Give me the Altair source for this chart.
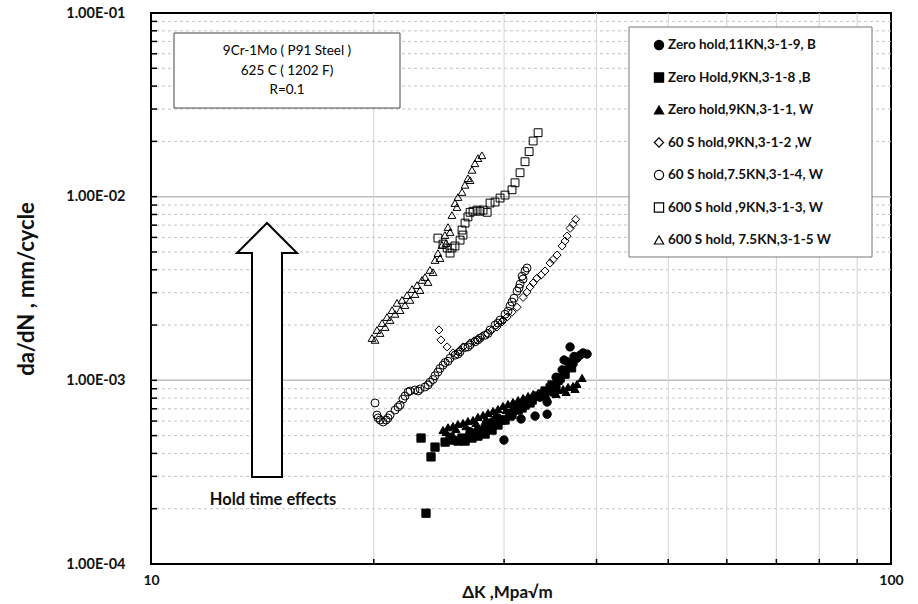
import altair as alt
import pandas as pd

FONT = "Lato"

# ---------------- data ----------------
names = [
    "Zero hold,11KN,3-1-9, B",
    "Zero Hold,9KN,3-1-8 ,B",
    "Zero hold,9KN,3-1-1, W",
    "60 S hold,9KN,3-1-2 ,W",
    "60 S hold,7.5KN,3-1-4, W",
    "600 S hold ,9KN,3-1-3, W",
    "600 S hold, 7.5KN,3-1-5 W",
]
shapes = ["circle", "square", "triangle-up", "diamond", "circle", "square", "triangle-up"]
fills = ["black", "black", "black", "transparent", "transparent", "transparent", "transparent"]
sizes = [70, 60, 90, 120, 120, 130, 130]

zh11_k = [26.99, 27.66, 28.28, 28.90, 29.44, 29.99, 30.56, 31.04, 31.63, 32.12, 32.53, 33.04, 33.55,
          34.30, 34.30, 34.83, 35.27, 35.71, 36.16, 36.39, 36.84, 37.18, 37.64, 38.00, 38.36, 38.84,
          35.27, 35.94, 36.61, 37.30]
zh11_v = [5.25e-4, 5.36e-4, 5.63e-4, 5.93e-4, 6.24e-4, 4.73e-4, 6.64e-4, 6.89e-4, 6.16e-4, 7.34e-4,
          7.62e-4, 6.39e-4, 8.10e-4, 6.54e-4, 7.62e-4, 8.64e-4, 9.20e-4, 1.01e-3, 1.29e-3, 1.14e-3,
          1.52e-3, 1.23e-3, 1.32e-3, 1.37e-3, 1.41e-3, 1.39e-3,
          1.04e-3, 1.14e-3, 1.26e-3, 1.35e-3]

zh9b_k = [23.17, 23.90, 24.20, 23.53, 24.97, 25.51, 25.99, 26.57, 27.15, 27.66, 28.28, 28.90,
          29.44, 30.09, 30.75, 31.34, 32.02, 32.74, 33.35, 34.08, 34.83, 35.49, 36.27, 37.01,
          25.36, 26.32, 26.99, 28.01, 28.72, 29.81, 30.56, 31.73, 32.53, 33.77, 34.62, 35.71]
zh9b_v = [4.85e-4, 3.83e-4, 4.33e-4, 1.89e-4, 4.61e-4, 4.73e-4, 4.67e-4, 4.67e-4, 4.85e-4, 4.97e-4,
          5.10e-4, 5.36e-4, 5.71e-4, 6.08e-4, 6.54e-4, 6.89e-4, 7.34e-4, 7.81e-4, 8.21e-4, 8.75e-4,
          9.43e-4, 1.00e-3, 1.08e-3, 1.17e-3,
          4.90e-4, 4.85e-4, 4.97e-4, 5.23e-4, 5.50e-4, 6.08e-4, 6.39e-4, 7.07e-4, 7.53e-4, 8.42e-4,
          9.09e-4, 1.03e-3]

zh9w_k = [24.81, 25.20, 25.59, 25.99, 26.40, 26.81, 27.24, 27.66, 28.10, 28.54, 28.99, 29.44, 29.90,
          30.37, 30.85, 31.34, 31.83, 32.33, 32.84, 33.35, 33.87, 34.40, 34.94, 35.49, 36.05, 36.61,
          37.18, 37.64, 38.24,
          25.05, 25.83, 26.65, 27.49, 28.37, 29.26, 30.18, 31.14, 32.12, 33.14, 34.19, 35.27, 36.39,
          37.41]
zh9w_v = [5.36e-4, 5.55e-4, 5.63e-4, 5.78e-4, 5.86e-4, 6.00e-4, 6.08e-4, 6.32e-4, 6.47e-4, 6.64e-4,
          6.81e-4, 6.98e-4, 7.25e-4, 7.43e-4, 7.62e-4, 7.81e-4, 8.01e-4, 8.21e-4, 8.42e-4, 8.53e-4,
          8.64e-4, 8.75e-4, 8.86e-4, 8.86e-4, 8.97e-4, 9.20e-4, 9.31e-4, 9.55e-4, 1.03e-3,
          5.23e-4, 5.43e-4, 5.63e-4, 5.86e-4, 6.16e-4, 6.54e-4, 6.89e-4, 7.34e-4, 7.72e-4, 8.10e-4,
          8.32e-4, 8.42e-4, 8.64e-4, 8.97e-4]

h60_9_k = [24.50, 24.65, 25.13, 25.59, 25.99, 26.40, 26.99, 27.58, 28.01, 28.46, 28.90, 29.35, 29.81,
           30.28, 30.75, 31.24, 31.83, 32.53, 33.24, 34.08, 34.62, 35.38, 35.94, 36.50, 36.84, 37.49,
           26.16, 27.32, 29.90, 32.22, 32.84, 33.66, 34.94, 36.27, 37.18]
h60_9_v = [1.88e-3, 1.66e-3, 1.52e-3, 1.41e-3, 1.43e-3, 1.52e-3, 1.60e-3, 1.66e-3, 1.74e-3, 1.80e-3,
           1.88e-3, 1.95e-3, 2.08e-3, 2.21e-3, 2.35e-3, 2.50e-3, 2.83e-3, 3.22e-3, 3.60e-3, 3.94e-3,
           4.35e-3, 4.81e-3, 5.39e-3, 6.10e-3, 6.72e-3, 7.53e-3,
           1.46e-3, 1.64e-3, 2.13e-3, 3.02e-3, 3.39e-3, 3.74e-3, 4.55e-3, 5.73e-3, 7.07e-3]

h60_75_k = [20.08, 20.20, 20.40, 20.59, 20.78, 21.04, 21.37, 21.71, 22.04, 22.39, 22.74, 23.10,
            23.46, 23.83, 24.20, 24.58, 24.97, 25.36, 25.75, 26.16, 26.57, 26.99, 27.41, 27.84,
            28.28, 28.72, 29.17, 29.63, 30.09, 30.56, 30.94, 31.24, 31.53, 31.73, 32.02, 32.22,
            20.27, 20.91, 21.57, 21.90, 22.25, 22.96, 23.68, 24.05, 24.42, 24.81, 25.20, 25.99,
            26.81, 27.66, 28.54, 29.44, 30.37, 30.75, 31.43, 31.83]
h60_75_v = [7.53e-4, 6.47e-4, 6.08e-4, 5.93e-4, 6.08e-4, 6.47e-4, 6.89e-4, 7.34e-4, 8.21e-4, 8.75e-4,
            8.86e-4, 8.97e-4, 9.20e-4, 9.78e-4, 1.06e-3, 1.16e-3, 1.25e-3, 1.32e-3, 1.37e-3, 1.43e-3,
            1.51e-3, 1.56e-3, 1.62e-3, 1.70e-3, 1.76e-3, 1.88e-3, 2.00e-3, 2.13e-3, 2.29e-3, 2.54e-3,
            2.80e-3, 3.06e-3, 3.34e-3, 3.69e-3, 3.94e-3, 4.09e-3,
            6.24e-4, 6.24e-4, 7.16e-4, 7.90e-4, 8.64e-4, 8.75e-4, 9.43e-4, 1.01e-3, 1.11e-3, 1.21e-3,
            1.27e-3, 1.39e-3, 1.52e-3, 1.66e-3, 1.80e-3, 2.05e-3, 2.38e-3, 2.67e-3, 3.18e-3, 3.56e-3]

h600_9_k = [24.42, 24.81, 25.13, 25.36, 25.51, 25.75, 26.16, 26.40, 26.32, 26.57, 26.81, 26.99, 27.24,
            27.58, 27.84, 28.10, 28.46, 28.72, 29.17, 29.63, 30.09, 30.75, 31.04, 31.53, 32.02, 32.43,
            32.84, 33.35]
h600_9_v = [5.95e-3, 5.52e-3, 5.25e-3, 4.93e-3, 5.25e-3, 5.39e-3, 5.80e-3, 6.18e-3, 6.58e-3, 7.18e-3,
            7.76e-3, 8.22e-3, 8.33e-3, 8.45e-3, 8.33e-3, 8.45e-3, 8.22e-3, 9.23e-3, 9.35e-3, 9.83e-3,
            1.02e-2, 1.09e-2, 1.19e-2, 1.35e-2, 1.55e-2, 1.76e-2, 2.01e-2, 2.23e-2]

h600_75_k = [19.89, 20.20, 20.52, 20.84, 21.17, 21.50, 21.84, 22.18, 22.53, 22.88, 23.24, 23.46,
             23.82, 24.20, 24.42, 24.73, 24.96, 25.20, 25.51, 25.75, 25.99, 26.32, 26.56, 26.81,
             27.15, 27.40, 27.66, 28.00,
             20.08, 20.40, 20.72, 21.04, 21.37, 21.71, 22.04, 22.39, 22.74, 23.10, 23.68, 24.05,
             24.58, 25.05, 25.36, 25.91, 26.99]
h600_75_v = [1.70e-3, 1.88e-3, 2.05e-3, 2.21e-3, 2.41e-3, 2.64e-3, 2.74e-3, 2.91e-3, 3.14e-3, 3.30e-3,
             3.52e-3, 3.65e-3, 3.99e-3, 4.52e-3, 4.93e-3, 5.45e-3, 6.18e-3, 6.83e-3, 7.94e-3, 9.23e-3,
             9.95e-3, 1.06e-2, 1.16e-2, 1.26e-2, 1.40e-2, 1.52e-2, 1.62e-2, 1.68e-2,
             1.66e-3, 1.81e-3, 1.95e-3, 2.13e-3, 2.30e-3, 2.41e-3, 2.57e-3, 2.74e-3, 2.95e-3, 3.10e-3,
             3.43e-3, 3.88e-3, 4.63e-3, 5.59e-3, 6.42e-3, 8.78e-3, 1.23e-2]

y_major = [1e-4, 1e-3, 1e-2, 1e-1]
y_minor = [m * d for d in (1e-4, 1e-3, 1e-2) for m in range(2, 10)]
x_grid = [20, 30, 40, 50, 60, 70, 80, 90]
x_labels = [10, 100]

annotation = "9Cr-1Mo ( P91 Steel )\n625 C ( 1202 F)\nR=0.1"
arrow_label = "Hold time effects"

# ---------------- build ----------------
series_k = [zh11_k, zh9b_k, zh9w_k, h60_9_k, h60_75_k, h600_9_k, h600_75_k]
series_v = [zh11_v, zh9b_v, zh9w_v, h60_9_v, h60_75_v, h600_9_v, h600_75_v]
rows = []
for n, ks, vs in zip(names, series_k, series_v):
    for k, v in zip(ks, vs):
        rows.append({"series": n, "dK": k, "dadN": v})
df = pd.DataFrame(rows)

W, H = 740, 551
xs = alt.Scale(type="log", domain=[10, 100], nice=False)
ys = alt.Scale(type="log", domain=[1e-4, 1e-1], nice=False)
one = pd.DataFrame({"a": [0]})

XAX = alt.Axis(values=x_labels, format=".0f", title="ΔK ,Mpa√m", grid=False, ticks=False,
               domain=False, labelFlush=False, labelOverlap=False, labelFont=FONT,
               labelFontSize=14, labelFontWeight="bold", labelColor="#111",
               labelPadding=9, titleFont=FONT, titleFontSize=17, titleX=356,
               titleFontWeight="bold", titleColor="#111", titlePadding=-3)
YAX = alt.Axis(values=y_major,
               labelExpr="'1.00E-0' + round(-log(datum.value) / LN10)",
               title="da/dN , mm/cycle", grid=False, ticks=False, domain=False,
               labelFont=FONT, labelFontSize=14.5, labelFontWeight="bold",
               labelColor="#111", labelPadding=26, labelOverlap=False,
               labelFlush=False, titleFont=FONT, titleFontSize=22,
               titleFontWeight="bold", titleColor="#111", titlePadding=27)

minor_df = pd.DataFrame({"dadN": y_minor})
major_df = pd.DataFrame({"dadN": [1e-3, 1e-2]})
all_y_df = pd.DataFrame({"dadN": y_minor + y_major})
xg_df = pd.DataFrame({"dK": x_grid})

hminor = alt.Chart(minor_df).mark_rule(color="#c4c4c4", strokeDash=[3, 3], strokeWidth=1).encode(
    y=alt.Y("dadN:Q", scale=ys, axis=YAX))
hmajor = alt.Chart(major_df).mark_rule(color="#bdbdbd", strokeWidth=1.5).encode(
    y=alt.Y("dadN:Q", scale=ys, axis=YAX))
vgrid = alt.Chart(xg_df).mark_rule(color="#d3d3d3", strokeWidth=1).encode(
    x=alt.X("dK:Q", scale=xs, axis=XAX))
yticks = alt.Chart(all_y_df).mark_rule(color="black", strokeWidth=1.5).encode(
    y=alt.Y("dadN:Q", scale=ys, axis=YAX), x=alt.value(0), x2=alt.value(6))
xticks = alt.Chart(xg_df).mark_rule(color="black", strokeWidth=1.5).encode(
    x=alt.X("dK:Q", scale=xs, axis=XAX), y=alt.value(H), y2=alt.value(H - 5))

note_box = alt.Chart(one).mark_rect(fill="white", stroke="#444", strokeWidth=1).encode(
    x=alt.value(23), x2=alt.value(249), y=alt.value(20), y2=alt.value(95))
note_text = alt.Chart(one).mark_text(font=FONT, fontSize=13.5, lineBreak="\n",
                                     lineHeight=19.5, align="center", baseline="middle",
                                     color="black").encode(
    x=alt.value(136), y=alt.value(38), text=alt.value(annotation))

legend_box = alt.Chart(one).mark_rect(fill="white", stroke="#777", strokeWidth=1).encode(
    x=alt.value(478), x2=alt.value(721), y=alt.value(14), y2=alt.value(244))

arrow_path = ("M 0 -1 L 0.236 -0.764 L 0.118 -0.764 L 0.118 1 L -0.118 1 "
              "L -0.118 -0.764 L -0.236 -0.764 Z")
arrow = alt.Chart(one).mark_point(shape=arrow_path, filled=True, fill="white", stroke="black",
                                  strokeWidth=2, opacity=1, fillOpacity=1).encode(
    x=alt.value(116), y=alt.value(337), size=alt.value(254 * 254))
arrow_text = alt.Chart(one).mark_text(font=FONT, fontSize=16.5, fontWeight="bold", align="center",
                                      baseline="middle", color="#111").encode(
    x=alt.value(122), y=alt.value(487), text=alt.value(arrow_label))

# legend entries (drawn as marks inside the legend box)
legend_layers = []
for i, (n, sh, fl) in enumerate(zip(names, shapes, fills)):
    yy = 32 + 32.5 * i
    legend_layers.append(
        alt.Chart(one).mark_point(shape=sh, filled=True, fill=("white" if fl == "transparent" else fl),
                                  stroke="black", strokeWidth=1.2, opacity=1, fillOpacity=1,
                                  size=85).encode(x=alt.value(508), y=alt.value(yy)))
    legend_layers.append(
        alt.Chart(one).mark_text(font=FONT, fontSize=13.5, fontWeight="bold", align="left",
                                 baseline="middle", color="#111").encode(
            x=alt.value(517), y=alt.value(yy), text=alt.value(n)))

points = alt.Chart(df).mark_point(opacity=1, fillOpacity=1, strokeWidth=1).encode(
    x=alt.X("dK:Q", scale=xs, axis=XAX),
    y=alt.Y("dadN:Q", scale=ys, axis=YAX),
    shape=alt.Shape("series:N", scale=alt.Scale(domain=names, range=shapes), legend=None),
    fill=alt.Fill("series:N", scale=alt.Scale(domain=names, range=fills), legend=None),
    size=alt.Size("series:N", scale=alt.Scale(domain=names, range=sizes), legend=None),
    stroke=alt.value("black"),
)

chart = alt.layer(
    hminor, hmajor, vgrid, yticks, xticks, note_box, note_text, legend_box, arrow, arrow_text,
    *legend_layers, points,
).properties(
    width=W, height=H, autosize="none", background="white",
    padding={"left": 151, "top": 13, "right": 27, "bottom": 40},
).configure_view(stroke="black", strokeWidth=2)

chart.save("out.html", embed_options={"renderer": "svg", "actions": False})
